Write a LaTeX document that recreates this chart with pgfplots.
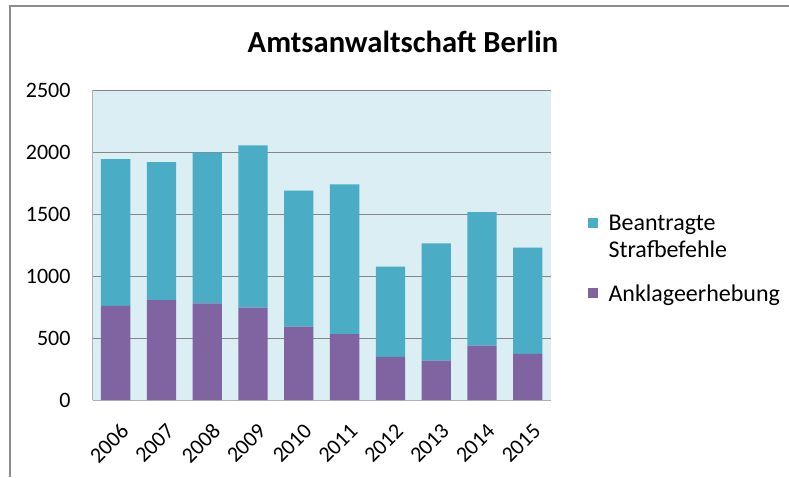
\documentclass[border=0pt]{standalone}
\usepackage{fontspec}
\setmainfont{Carlito}
\usepackage{pgfplots}
\pgfplotsset{compat=1.18}

\definecolor{straf}{HTML}{4BACC6}
\definecolor{anklage}{HTML}{8064A2}
\definecolor{plotbg}{HTML}{DAEEF3}
\definecolor{gridc}{HTML}{868686}
\definecolor{framec}{HTML}{8C8C8C}

\begin{document}
\begin{tikzpicture}
  \useasboundingbox (0,0) rectangle (789pt,477pt);
  \fill[white] (0,0) rectangle (789pt,477pt);
  \draw[framec, line width=2pt] (10pt,0pt) -- (10pt,470.5pt) -- (789pt,470.5pt);

  \node[anchor=base, inner sep=0pt, font=\fontsize{30.6}{36}\selectfont\bfseries]
    at (403pt,424pt) {Amtsanwaltschaft Berlin};

  \begin{axis}[
    at={(92.7pt,77pt)}, anchor=south west,
    scale only axis,
    width=458pt, height=310pt,
    ybar stacked,
    bar width=29.3pt,
    xmin=-0.5, xmax=9.5,
    ymin=0, ymax=2500,
    xtick={0,...,9},
    xticklabels={2006,2007,2008,2009,2010,2011,2012,2013,2014,2015},
    ytick={0,500,...,2500},
    major tick length=0pt,
    ymajorgrids,
    major grid style={gridc, line width=1pt},
    axis background/.style={fill=plotbg},
    axis line style={draw=gray!60, line width=1pt},
    axis x line*=bottom, axis y line*=left,
    tick label style={font=\fontsize{22}{26}\selectfont},
    /pgf/number format/assume math mode=true,
    /pgf/number format/1000 sep={},
    yticklabel style={anchor=east, inner sep=0pt},
    yticklabel shift=22pt,
    xticklabel style={xshift=4pt, rotate=45, anchor=north east, inner sep=0pt},
    xticklabel shift=22pt,
  ]
    % Anklageerhebung
    \addplot[fill=anklage, draw=none] coordinates {
      (0,760) (1,806) (2,779) (3,745) (4,591)
      (5,532) (6,347) (7,317) (8,438) (9,371)
    };
    % Beantragte Strafbefehle
    \addplot[fill=straf, draw=none] coordinates {
      (0,1183) (1,1113) (2,1216) (3,1309) (4,1097)
      (5,1207) (6,728) (7,946) (8,1078) (9,857)
    };
  \end{axis}

  % legend
  \begin{scope}[every node/.style={anchor=base west, inner sep=0pt,
      font=\fontsize{24}{28}\selectfont}]
    \fill[straf] (588.3pt,248.7pt) rectangle (598.3pt,258.7pt);
    \node at (608.3pt,246.4pt) {Beantragte};
    \node at (608.3pt,219.4pt) {Strafbefehle};
    \fill[anklage] (588.3pt,178.7pt) rectangle (598.3pt,188.7pt);
    \node at (608.3pt,175.4pt) {Anklageerhebung};
  \end{scope}
\end{tikzpicture}
\end{document}
